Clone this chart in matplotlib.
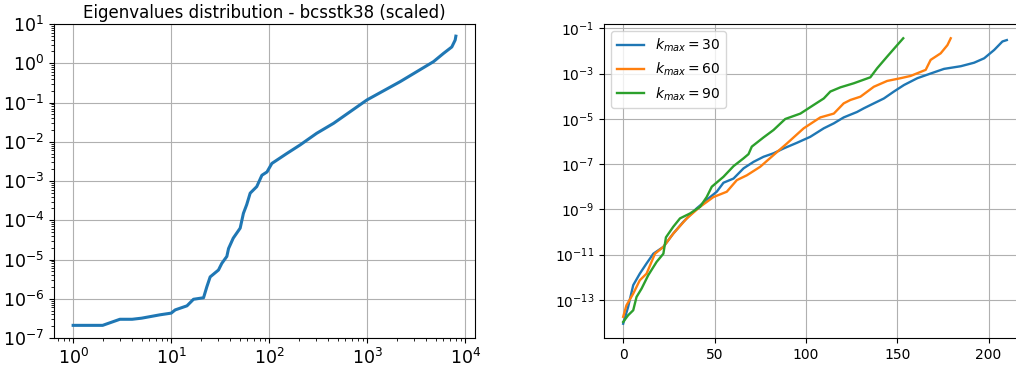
import numpy as np
import matplotlib
matplotlib.use('Agg')
import matplotlib.pyplot as plt

# left panel: sorted eigenvalues
eig_idx = [1, 2, 3, 4, 5, 7.7, 10, 11, 14.5, 16.9, 21.4, 23.1, 25, 30.4, 32.9, 37,
           38.5, 43, 50.6, 54.6, 59, 64, 74.7, 84.3, 95, 106.5, 151, 207, 305, 454,
           993, 2170, 4750, 6000, 7300, 7900, 8030]
eig_val = [2.1e-7, 2.1e-7, 3.0e-7, 3.0e-7, 3.2e-7, 3.9e-7, 4.3e-7, 5.2e-7, 6.6e-7,
           9.7e-7, 1.06e-6, 2.0e-6, 3.6e-6, 5.4e-6, 8.0e-6, 1.2e-5, 1.9e-5, 3.5e-5,
           6.3e-5, 1.5e-4, 2.5e-4, 4.9e-4, 7.2e-4, 1.4e-3, 1.7e-3, 2.8e-3, 5.0e-3,
           8.3e-3, 1.64e-2, 2.95e-2, 0.116, 0.34, 1.1, 1.78, 2.6, 3.9, 4.9]

# right panel: three runs
x30 = [0, 2.7, 5.5, 9.1, 12.8, 16.5, 22, 27.4, 32.9, 40.2, 47.6, 51.2, 54.9, 60.4,
       65.9, 71.4, 76.8, 82.3, 87.8, 95.1, 102.4, 109.8, 115.3, 120.7, 128, 131.7,
       137.2, 142.7, 148.2, 153.7, 161, 168.3, 175.6, 184.8, 192.1, 197.6, 203.1,
       207.6, 210]
y30 = [8.9e-15, 4.9e-14, 4.5e-13, 1.45e-12, 4.1e-12, 1.1e-11, 2.2e-11, 8.5e-11,
       2.8e-10, 1.1e-9, 3.5e-9, 6.0e-9, 1.5e-8, 2.3e-8, 6.5e-8, 1.26e-7, 2.1e-7,
       3.0e-7, 4.9e-7, 8.7e-7, 1.6e-6, 3.8e-6, 6.3e-6, 1.15e-5, 2.0e-5, 2.9e-5,
       4.8e-5, 7.9e-5, 1.6e-4, 3.1e-4, 6.2e-4, 1.0e-3, 1.6e-3, 2.1e-3, 3.0e-3,
       4.7e-3, 1.1e-2, 2.6e-2, 3.0e-2]

x60 = [0, 1.8, 5.5, 9.1, 12.8, 17.4, 22, 27.4, 34.8, 42.1, 49.4, 56.7, 62.2, 67.7,
       75, 82.3, 89.6, 98.8, 107.9, 115.3, 120.7, 124.4, 129.9, 137.2, 144.5,
       151.8, 157.3, 165.6, 168.3, 173.8, 177.5, 179.3]
y60 = [1.8e-14, 5.8e-14, 1.9e-13, 7.4e-13, 1.45e-12, 1.1e-11, 2.2e-11, 8.5e-11,
       4.0e-10, 1.3e-9, 3.5e-9, 6.0e-9, 1.95e-8, 3.2e-8, 7.6e-8, 2.5e-7, 8.1e-7,
       3.8e-6, 1.15e-5, 1.7e-5, 4.8e-5, 6.8e-5, 9.5e-5, 2.6e-4, 4.7e-4, 6.2e-4,
       7.8e-4, 1.45e-3, 4.0e-3, 7.8e-3, 1.8e-2, 3.6e-2]

x90 = [0, 2.7, 5.5, 7.3, 10.1, 13.7, 18.3, 22, 23.4, 27.4, 31.1, 36.6, 42.1, 45.7,
       48.5, 54.9, 60.4, 65.9, 68.6, 70.4, 76.8, 82.3, 88.7, 97, 104.3, 109.8,
       113.4, 118.9, 126.2, 135.3, 139, 144.5, 150, 153.3]
y90 = [1.07e-14, 2.1e-14, 3.5e-14, 1.35e-13, 3.2e-13, 1.23e-12, 4.8e-12, 1.1e-11,
       5.8e-11, 1.7e-10, 4.0e-10, 6.6e-10, 1.3e-9, 3.5e-9, 1.0e-8, 2.75e-8, 8.1e-8,
       1.8e-7, 2.75e-7, 5.9e-7, 1.5e-6, 3.2e-6, 9.8e-6, 1.7e-5, 4.1e-5, 7.9e-5,
       1.6e-4, 2.45e-4, 3.7e-4, 6.8e-4, 1.7e-3, 5.6e-3, 1.8e-2, 3.6e-2]

fig = plt.figure(figsize=(10.16, 3.67), dpi=100)

ax1 = fig.add_axes([54/1016, 1 - 338/367, (475-54)/1016, (338-24)/367])
ax1.loglog(eig_idx, eig_val, lw=2.2)
ax1.set_ylim(1e-7, 1e1)
ax1.grid(True)
ax1.set_title('Eigenvalues distribution - bcsstk38 (scaled)', fontsize=12, pad=4)
ax1.tick_params(labelsize=12.5)

ax2 = fig.add_axes([604/1016, 1 - 338/367, (1026-604)/1016, (338-24)/367])
ax2.semilogy(x30, y30, lw=1.7, label=r'$k_{max} = 30$')
ax2.semilogy(x60, y60, lw=1.7, label=r'$k_{max} = 60$')
ax2.semilogy(x90, y90, lw=1.7, label=r'$k_{max} = 90$')
ax2.grid(True)
ax2.legend(loc='upper left')

fig.savefig('out.png', dpi=100)
